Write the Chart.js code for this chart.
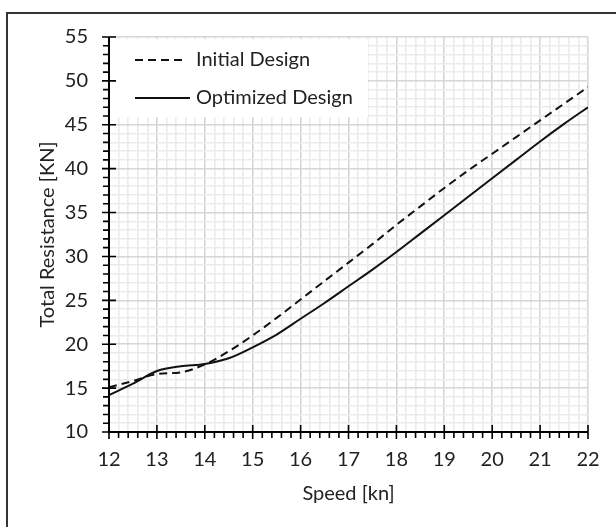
<!DOCTYPE html>
<html>
<head>
<meta charset="utf-8">
<script src="https://cdn.jsdelivr.net/npm/chart.js@4/dist/chart.umd.min.js"></script>
<style>
  html, body { margin: 0; padding: 0; background: #fff; }
  #wrap { position: relative; width: 616px; height: 527px; overflow: hidden; background: #fff; }
  #frame { position: absolute; left: 6px; top: 12px; width: 700px; height: 600px;
           border-top: 2px solid #333; border-left: 2px solid #333; }
  #c { position: absolute; left: 0; top: 0; }
</style>
</head>
<body>
<div id="wrap">
  <div id="frame"></div>
  <canvas id="c" width="616" height="527"></canvas>
</div>
<script>
// Speed samples [kn]
const speeds = [12, 12.5, 13, 13.5, 14, 14.5, 15, 15.5, 16, 16.5, 17, 17.5, 18, 18.5, 19, 19.5, 20, 20.5, 21, 21.5, 22];
// Total resistance [KN]
const initialDesign   = [15.1, 15.8, 16.6, 16.8, 17.7, 19.2, 21.0, 23.0, 25.1, 27.2, 29.3, 31.4, 33.6, 35.7, 37.8, 39.8, 41.7, 43.6, 45.5, 47.4, 49.3];
const optimizedDesign = [14.2, 15.5, 16.95, 17.5, 17.75, 18.4, 19.65, 21.1, 22.9, 24.7, 26.6, 28.5, 30.5, 32.6, 34.7, 36.8, 38.9, 41.0, 43.1, 45.1, 47.0];

const seriesLabels = ['Initial Design', 'Optimized Design'];
const xTickLabels = [12, 13, 14, 15, 16, 17, 18, 19, 20, 21, 22];
const yTickLabels = [10, 15, 20, 25, 30, 35, 40, 45, 50, 55];
const xMinorStep = 0.2;
const yMinorStep = 1;

const FONT = 'Lato, "Open Sans", sans-serif';
const FONT_SIZE = 20;
const TEXT = '#222';
const MAJOR_GRID = '#d6d6d6';
const MINOR_GRID = '#ebebeb';

const isMajor = (v, list) => list.some(t => Math.abs(t - v) < 1e-6);

function buildTicks(min, max, step) {
  const out = [];
  const n = Math.round((max - min) / step);
  for (let i = 0; i <= n; i++) out.push({ value: +(min + i * step).toFixed(4) });
  return out;
}

// Axis lines with crossing major ticks and outward minor ticks
const axisPlugin = {
  id: 'axisTicks',
  afterDatasetsDraw(chart) {
    const { ctx, chartArea: a, scales: { x, y } } = chart;
    ctx.save();
    ctx.strokeStyle = '#000';
    ctx.lineWidth = 2;
    ctx.beginPath();
    ctx.moveTo(a.left, a.top);
    ctx.lineTo(a.left, a.bottom);
    ctx.lineTo(a.right, a.bottom);
    ctx.stroke();
    ctx.lineWidth = 1.6;
    ctx.beginPath();
    x.ticks.forEach(t => {
      const px = x.getPixelForValue(t.value);
      if (isMajor(t.value, xTickLabels)) { ctx.moveTo(px, a.bottom - 7); ctx.lineTo(px, a.bottom + 7); }
      else { ctx.moveTo(px, a.bottom); ctx.lineTo(px, a.bottom + 6); }
    });
    y.ticks.forEach(t => {
      const py = y.getPixelForValue(t.value);
      if (isMajor(t.value, yTickLabels)) { ctx.moveTo(a.left - 7, py); ctx.lineTo(a.left + 7, py); }
      else { ctx.moveTo(a.left - 6, py); ctx.lineTo(a.left, py); }
    });
    ctx.stroke();
    ctx.restore();
  }
};

// Boxed legend in the upper-left corner of the plot
const legendPlugin = {
  id: 'insetLegend',
  beforeDatasetsDraw(chart) {
    const { ctx, chartArea: a } = chart;
    ctx.save();
    ctx.fillStyle = '#fff';
    ctx.fillRect(a.left + 1, a.top + 2, 258, 78);
    ctx.font = FONT_SIZE + 'px ' + FONT;
    ctx.fillStyle = TEXT;
    ctx.textBaseline = 'middle';
    const rows = [a.top + 23, a.top + 61];
    chart.data.datasets.forEach((ds, i) => {
      const yy = rows[i];
      ctx.strokeStyle = ds.borderColor;
      ctx.lineWidth = ds.borderWidth;
      ctx.setLineDash(ds.borderDash || []);
      ctx.beginPath();
      ctx.moveTo(a.left + 26, yy);
      ctx.lineTo(a.left + (ds.borderDash ? 78 : 81), yy);
      ctx.stroke();
      ctx.setLineDash([]);
      ctx.fillText(ds.label, a.left + 87, yy);
    });
    ctx.restore();
  }
};

new Chart(document.getElementById('c'), {
  type: 'line',
  data: {
    datasets: [
      {
        label: seriesLabels[0],
        data: speeds.map((s, i) => ({ x: s, y: initialDesign[i] })),
        borderColor: '#111',
        borderWidth: 2,
        borderDash: [8, 5],
        pointRadius: 0,
        cubicInterpolationMode: 'monotone',
        fill: false
      },
      {
        label: seriesLabels[1],
        data: speeds.map((s, i) => ({ x: s, y: optimizedDesign[i] })),
        borderColor: '#111',
        borderWidth: 2,
        pointRadius: 0,
        cubicInterpolationMode: 'monotone',
        fill: false
      }
    ]
  },
  options: {
    responsive: false,
    animation: false,
    devicePixelRatio: 1,
    layout: { padding: { left: 36, top: 37, right: 28, bottom: 21 } },
    plugins: { legend: { display: false }, tooltip: { enabled: false } },
    scales: {
      x: {
        type: 'linear',
        min: xTickLabels[0],
        max: xTickLabels[xTickLabels.length - 1],
        afterBuildTicks: s => { s.ticks = buildTicks(s.min, s.max, xMinorStep); },
        afterFit: s => { s.height = 74; },
        border: { display: false },
        grid: {
          drawTicks: false,
          color: c => isMajor(c.tick.value, xTickLabels) ? MAJOR_GRID : MINOR_GRID,
          lineWidth: 1.6
        },
        ticks: {
          autoSkip: false,
          maxRotation: 0,
          padding: 16,
          color: TEXT,
          font: { family: FONT, size: FONT_SIZE },
          callback: v => isMajor(v, xTickLabels) ? String(Math.round(v)) : ''
        },
        title: {
          display: true,
          text: 'Speed [kn]',
          color: TEXT,
          font: { family: FONT, size: FONT_SIZE },
          padding: 0
        }
      },
      y: {
        type: 'linear',
        min: yTickLabels[0],
        max: yTickLabels[yTickLabels.length - 1],
        afterBuildTicks: s => { s.ticks = buildTicks(s.min, s.max, yMinorStep); },
        afterFit: s => { s.width = 73; },
        border: { display: false },
        grid: {
          drawTicks: false,
          color: c => isMajor(c.tick.value, yTickLabels) ? MAJOR_GRID : MINOR_GRID,
          lineWidth: 1.6
        },
        ticks: {
          autoSkip: false,
          padding: 21,
          color: TEXT,
          font: { family: FONT, size: FONT_SIZE },
          callback: v => isMajor(v, yTickLabels) ? String(Math.round(v)) : ''
        },
        title: {
          display: true,
          text: 'Total Resistance [KN]',
          color: TEXT,
          font: { family: FONT, size: FONT_SIZE },
          padding: 0
        }
      }
    }
  },
  plugins: [axisPlugin, legendPlugin]
});
</script>
</body>
</html>
